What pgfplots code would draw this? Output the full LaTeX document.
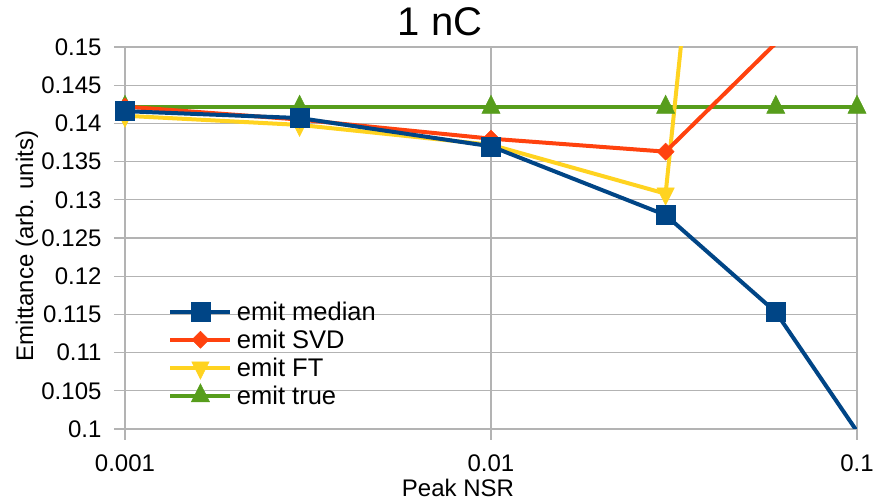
\documentclass[border=0pt]{standalone}
\usepackage{fontspec}
\setmainfont{Liberation Sans}
\usepackage{pgfplots}
\pgfplotsset{compat=1.18}
\definecolor{cMedian}{HTML}{004586}
\definecolor{cSVD}{HTML}{FF420E}
\definecolor{cFT}{HTML}{FFD320}
\definecolor{cTrue}{HTML}{579D1C}
\definecolor{gridgray}{HTML}{B3B3B3}

\begin{document}
\begin{tikzpicture}
\path[use as bounding box] (0pt,0pt) rectangle (880pt,502pt);
\begin{axis}[
  at={(125pt,73pt)}, anchor=south west,
  scale only axis, width=732pt, height=382pt,
  xmode=log, xmin=0.001, xmax=0.1, ymin=0.1, ymax=0.15,
  xtick={0.001,0.01,0.1}, xticklabels={0.001,0.01,0.1},
  xminorticks=false, yminorticks=false,
  ytick={0.1,0.105,0.11,0.115,0.12,0.125,0.13,0.135,0.14,0.145,0.15},
  yticklabels={0.1,0.105,0.11,0.115,0.12,0.125,0.13,0.135,0.14,0.145,0.15},
  grid=major, major grid style={draw=gridgray, line width=1.2pt},
  axis line style={draw=gridgray, line width=1.2pt},
  tick align=outside, major tick length=11pt,
  tick style={draw=gridgray, line width=1.2pt},
  xtick pos=left, ytick pos=left,
  tick label style={font=\fontsize{24}{29}\selectfont},
  xticklabel style={yshift=-11pt},
  yticklabel style={xshift=-9pt},
  reverse legend,
  legend cell align=left,
  legend style={at={(axis description cs:0.055,0.344)}, anchor=north west,
    draw=none, fill=none, font=\fontsize{25.5}{29}\selectfont,
    row sep=4pt, column sep=2.5pt},
  legend image code/.code={%
    \draw[#1, mark indices={2}]
      plot coordinates {(0pt,0pt) (30pt,0pt) (60pt,0pt)};},
  every axis plot/.append style={line width=4pt},
]
% emit true
\addplot[cTrue, mark=triangle*, mark size=10.5pt,
  mark options={solid, line width=0.5pt, yscale=1.15}]
  coordinates {(0.001,0.1421) (0.003,0.1421) (0.01,0.1421)
               (0.03,0.1421) (0.06,0.1421) (0.1,0.1421)};
\addlegendentry{emit true}
% emit FT
\addplot[cFT, mark=triangle*, mark size=10pt, mark indices={1,2,3,4},
  mark options={solid, line width=0.5pt, rotate=180, yscale=1.15}]
  coordinates {(0.001,0.1410) (0.003,0.1398) (0.01,0.1372)
               (0.03,0.1308) (0.06,0.27) (0.1,0.30)};
\addlegendentry{emit FT}
% emit SVD
\addplot[cSVD, mark=square*, mark size=6pt, mark indices={1,2,3,4},
  mark options={solid, line width=0.5pt, rotate=45}]
  coordinates {(0.001,0.1422) (0.003,0.1405) (0.01,0.1380)
               (0.03,0.1363) (0.06,0.1505) (0.1,0.17)};
\addlegendentry{emit SVD}
% emit median
\addplot[cMedian, mark=square*, mark size=9.5pt, mark indices={1,2,3,4,5},
  mark options={solid, line width=0.5pt}]
  coordinates {(0.001,0.1416) (0.003,0.1407) (0.01,0.1370)
               (0.03,0.1280) (0.06,0.1153) (0.1,0.0997)};
\addlegendentry{emit median}
\end{axis}
\node[font=\fontsize{40}{46}\selectfont] at (440pt,480pt) {1 nC};
\node[font=\fontsize{24}{29}\selectfont, rotate=90, anchor=base] at (33pt,256pt) {Emittance (arb. units)};
\node[font=\fontsize{24}{29}\selectfont, anchor=base] at (458pt,5pt) {Peak NSR};
\end{tikzpicture}
\end{document}
